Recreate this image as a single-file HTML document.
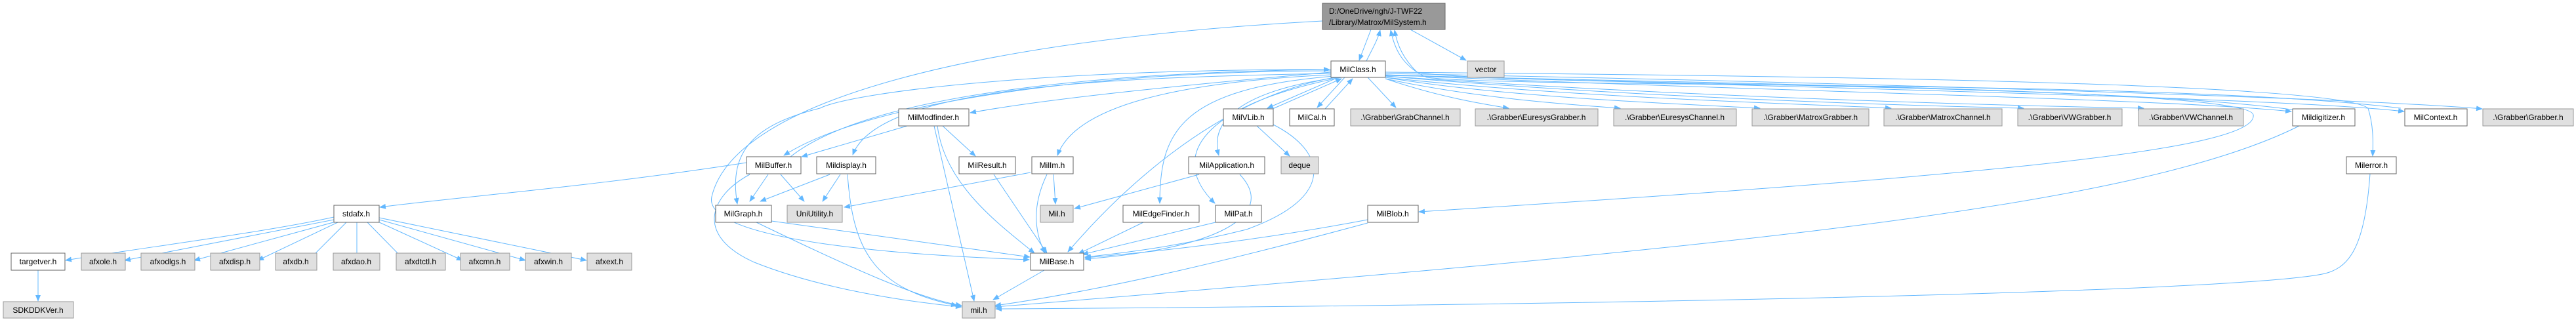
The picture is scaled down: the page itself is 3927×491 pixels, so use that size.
<!DOCTYPE html>
<html><head><meta charset="utf-8"><style>
html,body{margin:0;padding:0;background:#fff;}
svg{display:block;}
text{font-family:"Liberation Sans",Arial,sans-serif;font-size:12px;fill:#000;}
.w{fill:#fff;stroke:#666;stroke-width:1;}
.g{fill:#e0e0e0;stroke:#999;stroke-width:1;}
.d{fill:#999;stroke:#666;stroke-width:1;}
path.e{fill:none;stroke:#63b8ff;stroke-width:1;}
</style></head><body>
<svg width="3927" height="491" viewBox="0 0 3927 491" xmlns="http://www.w3.org/2000/svg">
<defs><marker id="a" markerWidth="10" markerHeight="8" refX="9" refY="4" orient="auto" markerUnits="userSpaceOnUse"><path d="M0,0 L10,4 L0,8 z" fill="#63b8ff"/></marker></defs>
<g marker-end="url(#a)">
<!-- top -->
<path class="e" d="M2090,45 L2072,92"/>
<path class="e" d="M2083,93 C2090,78 2100,62 2104,46"/>
<path class="e" d="M2150,45 L2235,92"/>
<path class="e" d="M2016,32 C1500,60 1120,150 1085,300 C1070,370 1400,390 1569,396"/>
<path class="e" d="M3660,165 C3300,120 2300,135 2175,118 C2135,100 2125,70 2120,46"/>
<path class="e" d="M3500,168 C3200,125 2250,130 2160,110 C2140,90 2130,70 2126,46"/>
<!-- MilClass right -->
<path class="e" d="M2085,118 L2128,164"/>
<path class="e" d="M2112,120 C2200,150 2270,160 2300,165"/>
<path class="e" d="M2112,120 C2250,150 2400,160 2470,165"/>
<path class="e" d="M2112,118 C2300,150 2600,160 2683,165"/>
<path class="e" d="M2112,118 C2400,150 2800,160 2883,165"/>
<path class="e" d="M2112,116 C2500,150 2950,162 3085,165"/>
<path class="e" d="M2112,116 C2600,150 3100,162 3268,165"/>
<path class="e" d="M2112,114 C2700,140 3300,150 3493,170"/>
<path class="e" d="M2112,114 C2800,135 3500,150 3665,170"/>
<path class="e" d="M2112,112 C2800,125 3600,150 3784,166"/>
<path class="e" d="M2112,110 C2700,115 3560,125 3610,165 C3618,190 3618,215 3617,238"/>
<path class="e" d="M2112,115 C2800,130 3430,140 3435,175 C3445,230 3000,270 2163,323"/>
<!-- MilClass left -->
<path class="e" d="M2029,110 C1800,130 1600,150 1479,172"/>
<path class="e" d="M2029,108 C1700,108 1330,150 1195,237"/>
<path class="e" d="M1205,239 C1330,140 1700,110 2027,106"/>
<path class="e" d="M2029,106 C1600,105 1300,140 1250,165 C1150,190 1110,230 1124,311"/>
<path class="e" d="M2029,112 C1700,118 1340,130 1300,236"/>
<path class="e" d="M2029,114 C1800,125 1640,160 1612,237"/>
<path class="e" d="M2035,118 C1850,150 1700,300 1628,384"/>
<path class="e" d="M2035,116 C1800,135 1768,200 1768,310"/>
<path class="e" d="M2040,118 C1880,140 1845,190 1858,237"/>
<path class="e" d="M2045,118 C1830,160 1780,240 1852,310"/>
<path class="e" d="M2040,118 L1932,165"/>
<path class="e" d="M1940,166 L2045,120"/>
<path class="e" d="M2050,118 L2008,164"/>
<path class="e" d="M2020,166 L2062,120"/>
<!-- mid layer -->
<path class="e" d="M1138,248 C900,285 700,300 579,316"/>
<path class="e" d="M1143,266 C1080,300 1060,360 1150,400 C1250,440 1380,460 1466,468"/>
<path class="e" d="M1171,266 L1143,307"/>
<path class="e" d="M1190,266 L1226,307"/>
<path class="e" d="M1265,266 L1159,307"/>
<path class="e" d="M1281,266 L1254,307"/>
<path class="e" d="M1292,266 C1300,380 1330,440 1459,466"/>
<path class="e" d="M1383,192 L1222,239"/>
<path class="e" d="M1437,192 L1487,238"/>
<path class="e" d="M1424,192 L1485,459"/>
<path class="e" d="M1429,192 C1440,280 1520,340 1577,386"/>
<path class="e" d="M1515,266 L1596,386"/>
<path class="e" d="M1571,263 L1287,316"/>
<path class="e" d="M1606,266 L1609,311"/>
<path class="e" d="M1596,266 C1570,320 1580,360 1593,386"/>
<path class="e" d="M1828,266 L1638,318"/>
<path class="e" d="M1890,266 C1950,330 1850,380 1654,395"/>
<path class="e" d="M1743,339 L1644,387"/>
<path class="e" d="M1853,339 L1650,388"/>
<path class="e" d="M1916,192 L1966,238"/>
<path class="e" d="M1941,190 C2020,230 2040,300 1900,350 C1800,375 1720,385 1654,392"/>
<path class="e" d="M1176,337 L1570,392"/>
<path class="e" d="M1153,339 C1300,410 1400,455 1466,466"/>
<path class="e" d="M1592,412 L1514,457"/>
<path class="e" d="M2085,335 C1900,370 1750,385 1654,393"/>
<path class="e" d="M2085,340 C1900,390 1700,440 1517,466"/>
<path class="e" d="M3505,192 C3250,320 2600,380 1517,468"/>
<path class="e" d="M3613,265 C3605,380 3580,410 3540,418 C3400,445 2500,465 1518,471"/>
<!-- stdafx -->
<path class="e" d="M509,331 C400,355 200,380 100,397"/>
<path class="e" d="M509,335 L190,397"/>
<path class="e" d="M512,338 L296,397"/>
<path class="e" d="M515,339 L393,397"/>
<path class="e" d="M528,339 L470,397"/>
<path class="e" d="M544,339 L544,397"/>
<path class="e" d="M560,339 L617,397"/>
<path class="e" d="M576,338 L705,397"/>
<path class="e" d="M578,335 L801,397"/>
<path class="e" d="M578,332 L894,397"/>
<path class="e" d="M58,412 L58,459"/>
</g>
<!-- nodes -->
<rect class="d" x="2016" y="5" width="187" height="40"/><text x="2026" y="21">D:/OneDrive/ngh/J-TWF22</text><text x="2026" y="38">/Library/Matrox/MilSystem.h</text>
<g text-anchor="middle">
<rect class="w" x="2029" y="93" width="83" height="25"/><text x="2070" y="110">MilClass.h</text>
<rect class="g" x="2237" y="93" width="56" height="25"/><text x="2265" y="110">vector</text>
<rect class="w" x="1370" y="166" width="107" height="26"/><text x="1423" y="183">MilModfinder.h</text>
<rect class="w" x="1865" y="166" width="76" height="26"/><text x="1903" y="183">MilVLib.h</text>
<rect class="w" x="1966" y="166" width="68" height="26"/><text x="2000" y="183">MilCal.h</text>
<rect class="g" x="2059" y="166" width="167" height="26"/><text x="2142" y="183">.\Grabber\GrabChannel.h</text>
<rect class="g" x="2249" y="166" width="187" height="26"/><text x="2342" y="183">.\Grabber\EuresysGrabber.h</text>
<rect class="g" x="2460" y="166" width="187" height="26"/><text x="2553" y="183">.\Grabber\EuresysChannel.h</text>
<rect class="g" x="2671" y="166" width="178" height="26"/><text x="2760" y="183">.\Grabber\MatroxGrabber.h</text>
<rect class="g" x="2872" y="166" width="180" height="26"/><text x="2962" y="183">.\Grabber\MatroxChannel.h</text>
<rect class="g" x="3076" y="166" width="159" height="26"/><text x="3155" y="183">.\Grabber\VWGrabber.h</text>
<rect class="g" x="3260" y="166" width="160" height="26"/><text x="3340" y="183">.\Grabber\VWChannel.h</text>
<rect class="w" x="3495" y="166" width="95" height="26"/><text x="3542" y="183">Mildigitizer.h</text>
<rect class="w" x="3666" y="166" width="95" height="26"/><text x="3713" y="183">MilContext.h</text>
<rect class="g" x="3785" y="166" width="138" height="26"/><text x="3854" y="183">.\Grabber\Grabber.h</text>
<rect class="w" x="1138" y="239" width="83" height="26"/><text x="1179" y="256">MilBuffer.h</text>
<rect class="w" x="1245" y="239" width="90" height="26"/><text x="1290" y="256">Mildisplay.h</text>
<rect class="w" x="1462" y="239" width="86" height="26"/><text x="1505" y="256">MilResult.h</text>
<rect class="w" x="1573" y="239" width="63" height="26"/><text x="1604" y="256">MilIm.h</text>
<rect class="w" x="1812" y="239" width="116" height="26"/><text x="1870" y="256">MilApplication.h</text>
<rect class="g" x="1953" y="239" width="57" height="26"/><text x="1981" y="256">deque</text>
<rect class="w" x="3577" y="239" width="76" height="26"/><text x="3615" y="256">Milerror.h</text>
<rect class="w" x="509" y="313" width="69" height="26"/><text x="543" y="330">stdafx.h</text>
<rect class="w" x="1091" y="313" width="85" height="26"/><text x="1133" y="330">MilGraph.h</text>
<rect class="g" x="1200" y="313" width="84" height="26"/><text x="1242" y="330">UniUtility.h</text>
<rect class="g" x="1586" y="313" width="50" height="26"/><text x="1611" y="330">Mil.h</text>
<rect class="w" x="1712" y="313" width="116" height="26"/><text x="1770" y="330">MilEdgeFinder.h</text>
<rect class="w" x="1853" y="313" width="70" height="26"/><text x="1888" y="330">MilPat.h</text>
<rect class="w" x="2085" y="313" width="77" height="26"/><text x="2123" y="330">MilBlob.h</text>
<rect class="w" x="17" y="386" width="82" height="26"/><text x="58" y="403">targetver.h</text>
<rect class="g" x="124" y="386" width="67" height="26"/><text x="157" y="403">afxole.h</text>
<rect class="g" x="215" y="386" width="82" height="26"/><text x="256" y="403">afxodlgs.h</text>
<rect class="g" x="321" y="386" width="75" height="26"/><text x="358" y="403">afxdisp.h</text>
<rect class="g" x="420" y="386" width="63" height="26"/><text x="451" y="403">afxdb.h</text>
<rect class="g" x="508" y="386" width="71" height="26"/><text x="543" y="403">afxdao.h</text>
<rect class="g" x="604" y="386" width="75" height="26"/><text x="641" y="403">afxdtctl.h</text>
<rect class="g" x="702" y="386" width="75" height="26"/><text x="739" y="403">afxcmn.h</text>
<rect class="g" x="801" y="386" width="70" height="26"/><text x="836" y="403">afxwin.h</text>
<rect class="g" x="895" y="386" width="68" height="26"/><text x="929" y="403">afxext.h</text>
<rect class="w" x="1571" y="386" width="81" height="26"/><text x="1611" y="403">MilBase.h</text>
<rect class="g" x="5" y="460" width="107" height="25"/><text x="58" y="477">SDKDDKVer.h</text>
<rect class="g" x="1467" y="460" width="50" height="25"/><text x="1492" y="477">mil.h</text>
</g>
</svg>
</body></html>
